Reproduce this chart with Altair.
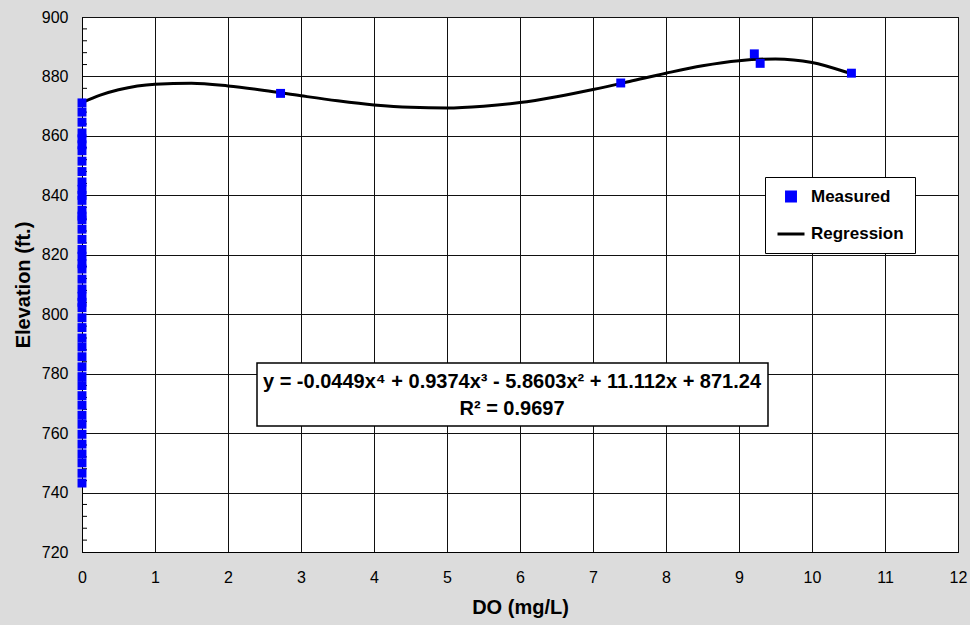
import altair as alt
import pandas as pd

# Measured data (DO, elevation)
col_y = [871.1, 868.0, 864.6, 861.0, 859.0, 857.0, 855.0, 851.5, 848.0,
         844.5, 842.0, 840.0, 838.3, 835.0, 833.0, 831.8, 828.6, 825.2,
         821.8, 819.5, 817.0, 815.2, 811.8, 808.5, 806.0, 804.0, 802.2,
         798.8, 795.5, 792.0, 789.0, 785.7, 782.3, 779.0, 776.0, 772.6,
         769.4, 766.0, 763.0, 759.6, 756.3, 753.0, 750.0, 746.5, 743.2]
col_x = [0] * len(col_y)
other_x = [2.72, 7.38, 9.21, 9.29, 10.54]
other_y = [874.3, 877.8, 887.6, 884.4, 881.1]
meas_x = col_x + other_x
meas_y = col_y + other_y

# Regression curve
reg_x = [0, 0.25, 0.5, 1, 1.5, 2, 2.5, 3, 3.5, 4, 4.5, 5, 5.5, 6, 6.5, 7,
         7.5, 8, 8.5, 9, 9.5, 10, 10.5, 10.55]
reg_y = [871.2, 873.7, 875.5, 877.4, 877.7, 876.8, 875.3, 873.5, 871.8,
         870.4, 869.6, 869.4, 870.0, 871.2, 873.2, 875.6, 878.3, 881.1,
         883.6, 885.3, 885.9, 884.7, 881.2, 880.8]

minor_y = [724, 728, 732, 736, 744, 748, 752, 756, 764, 768, 772, 776,
           784, 788, 792, 796, 804, 808, 812, 816, 824, 828, 832, 836,
           844, 848, 852, 856, 864, 868, 872, 876, 884, 888, 892, 896]

x_ticks = [0, 1, 2, 3, 4, 5, 6, 7, 8, 9, 10, 11, 12]
y_ticks = [720, 740, 760, 780, 800, 820, 840, 860, 880, 900]

series = ["Measured", "Regression"]
eq_lines = ["y = -0.0449x\u2074 + 0.9374x\u00b3 - 5.8603x\u00b2 + 11.112x + 871.24",
            "R\u00b2 = 0.9697"]
FONT = "Liberation Sans"

meas_df = pd.DataFrame({"x": meas_x, "y": meas_y, "series": "Measured"})
reg_df = pd.DataFrame({"x": reg_x, "y": reg_y, "series": "Regression"})
minor_df = pd.DataFrame({"y": minor_y})

xs = alt.Scale(domain=[0, 12], nice=False, zero=False)
ys = alt.Scale(domain=[720, 900], nice=False, zero=False)

x_axis = alt.Axis(values=x_ticks, grid=True, gridColor="#111", gridWidth=1,
                  ticks=False, domainColor="black", labelFontSize=16,
                  labelColor="black", labelFont=FONT, labelPadding=17,
                  labelFlush=False,
                  title="DO (mg/L)", titleFont=FONT, titleFontSize=20,
                  titleFontWeight="bold", titleColor="black", titlePadding=12,
                  format="d")
y_axis = alt.Axis(values=y_ticks, grid=True, gridColor="#111", gridWidth=1,
                  ticks=False, domainColor="black", labelFontSize=16,
                  labelColor="black", labelFont=FONT, labelPadding=14,
                  labelFlush=False,
                  title="Elevation (ft.)", titleFont=FONT, titleFontSize=20,
                  titleFontWeight="bold", titleColor="black", titlePadding=8,
                  format="d")

legend = alt.Legend(title=None, orient="none", legendX=683, legendY=160,
                    fillColor="white", strokeColor="black", padding=11,
                    labelFont=FONT, labelFontSize=17, labelFontWeight="bold",
                    labelColor="black", rowPadding=12, labelOffset=5,
                    symbolStrokeWidth=3)

color_scale = alt.Scale(domain=series, range=["#0000ff", "black"])
shape_scale = alt.Scale(domain=series, range=["square", "stroke"])
size_scale = alt.Scale(domain=series, range=[80, 729])

points = alt.Chart(meas_df).mark_point(filled=True, opacity=1).encode(
    x=alt.X("x:Q", scale=xs, axis=x_axis),
    y=alt.Y("y:Q", scale=ys, axis=y_axis),
    color=alt.Color("series:N", scale=color_scale, legend=legend),
    shape=alt.Shape("series:N", scale=shape_scale, legend=legend),
    size=alt.Size("series:N", scale=size_scale, legend=legend),
)

line = alt.Chart(reg_df).mark_line(strokeWidth=3, interpolate="monotone").encode(
    x=alt.X("x:Q", scale=xs),
    y=alt.Y("y:Q", scale=ys),
    color=alt.Color("series:N", scale=color_scale, legend=legend),
)

minor = alt.Chart(minor_df).mark_rule(color="black", strokeWidth=1).encode(
    y=alt.Y("y:Q", scale=ys),
    x=alt.value(0),
    x2=alt.value(5),
)

box = alt.Chart(pd.DataFrame({"a": [0]})).mark_rect(
    fill="white", stroke="black", strokeWidth=1.5
).encode(x=alt.value(175), x2=alt.value(686), y=alt.value(346), y2=alt.value(409))

eq_df = pd.DataFrame({"t": eq_lines, "py": [365, 392]})
eq = alt.Chart(eq_df).mark_text(
    font=FONT, fontSize=20, fontWeight="bold", color="black", align="center",
    baseline="middle"
).encode(text="t:N", x=alt.value(430), y=alt.Y("py:Q", scale=None))

chart = alt.layer(minor, line, points, box, eq).properties(
    width=876, height=535,
    padding={"left": 82, "top": 17, "right": 12, "bottom": 73},
    autosize=alt.AutoSizeParams(type="none"),
    background="#dcdcdc",
).configure_view(fill="white", stroke="black", strokeWidth=1)

chart.save("out.html", embed_options={"renderer": "svg", "actions": False})
